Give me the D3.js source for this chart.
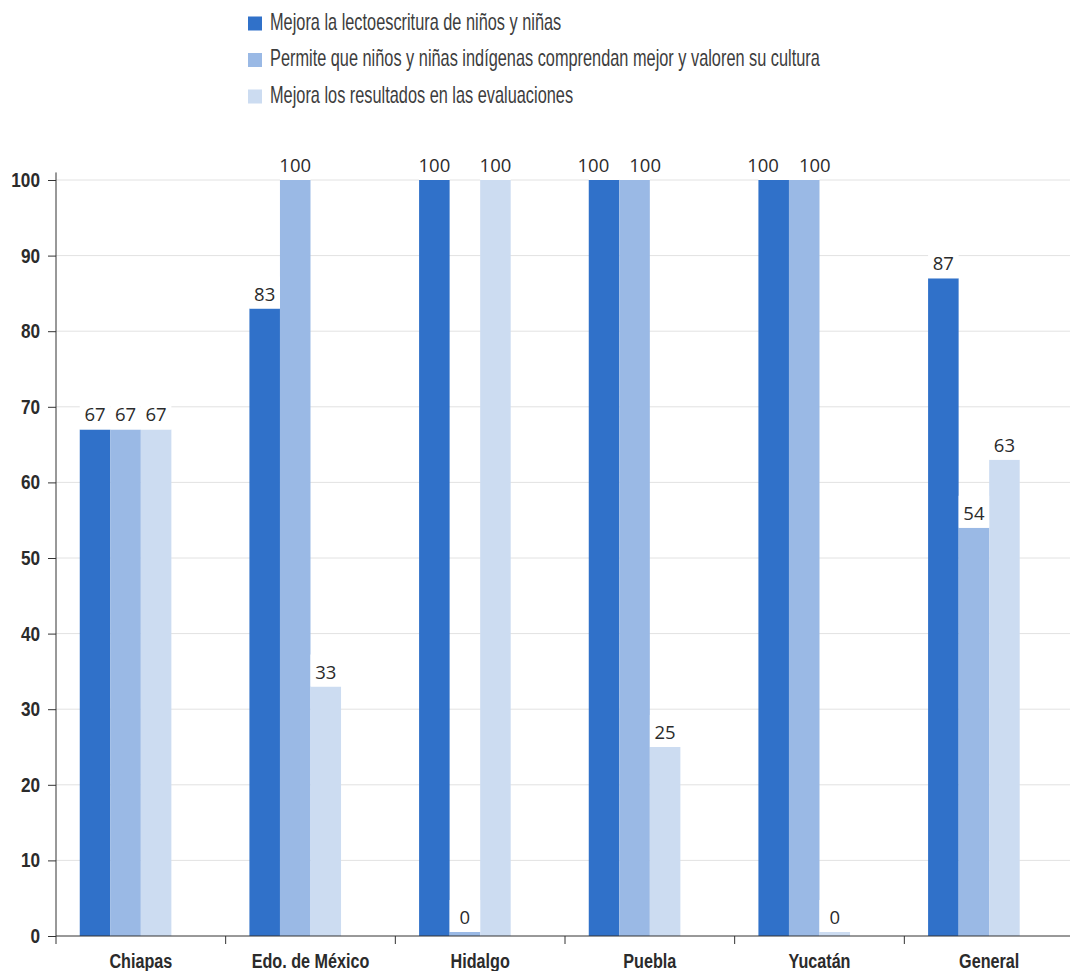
<!DOCTYPE html>
<html>
<head>
<meta charset="utf-8">
<script src="https://cdn.jsdelivr.net/npm/d3@7"></script>
<style>
  body { margin: 0; background: #fff; }
  svg { display: block; }
</style>
</head>
<body>
<script>
const categories = ["Chiapas", "Edo. de México", "Hidalgo", "Puebla", "Yucatán", "General"];
const seriesNames = [
  "Mejora la lectoescritura de niños y niñas",
  "Permite que niños y niñas indígenas comprendan mejor y valoren su cultura",
  "Mejora los resultados en las evaluaciones"
];
const lectoescritura = [67, 83, 100, 100, 100, 87];
const cultura = [67, 100, 0, 100, 100, 54];
const evaluaciones = [67, 33, 100, 25, 0, 63];
const yTicks = [0, 10, 20, 30, 40, 50, 60, 70, 80, 90, 100];

const colors = ["#3071c9", "#9ab9e5", "#ccdcf1"];
const values = [lectoescritura, cultura, evaluaciones];

const width = 1070, height = 971;
const margin = { left: 56, top: 180, bottom: 35 };
const narrow = "Liberation Sans, Arial, sans-serif";

const svg = d3.select("body").append("svg")
  .attr("width", width)
  .attr("height", height);

const x0 = d3.scaleBand()
  .domain(categories)
  .range([margin.left, 1074]);

const x1 = d3.scaleBand()
  .domain(d3.range(seriesNames.length))
  .range([x0.bandwidth() * 0.14, x0.bandwidth() * 0.68]);

const y = d3.scaleLinear()
  .domain([0, 100])
  .range([height - margin.bottom, margin.top]);

// gridlines
svg.append("g")
  .selectAll("line")
  .data(yTicks.filter(d => d > 0))
  .enter()
  .append("line")
  .attr("x1", margin.left)
  .attr("x2", width)
  .attr("y1", d => y(d))
  .attr("y2", d => y(d))
  .attr("stroke", "#e2e2e2")
  .attr("stroke-width", 1);

// one row per bar
const rows = [];
categories.forEach((c, i) => {
  values.forEach((v, s) => {
    rows.push({ cat: c, s: s, value: v[i] });
  });
});

const barX = d => x0(d.cat) + x1(d.s);
const barTop = d => Math.min(y(d.value), y(0) - 4);

svg.append("g")
  .selectAll("rect")
  .data(rows)
  .enter()
  .append("rect")
  .attr("x", barX)
  .attr("y", barTop)
  .attr("width", x1.bandwidth())
  .attr("height", d => y(0) - barTop(d))
  .attr("fill", d => colors[d.s]);

// value labels, white box behind
const labels = svg.append("g")
  .selectAll("g")
  .data(rows)
  .enter()
  .append("g");

labels.append("rect")
  .attr("x", barX)
  .attr("y", d => barTop(d) - 32)
  .attr("width", x1.bandwidth())
  .attr("height", 32)
  .attr("fill", "#fff");

const labelText = labels.append("text")
  .attr("x", d => barX(d) + x1.bandwidth() / 2)
  .attr("y", d => barTop(d) - 8)
  .attr("text-anchor", "middle")
  .attr("font-family", "Open Sans, sans-serif")
  .attr("font-size", "18.5px")
  .attr("fill", "#2b2b2b")
  .text(d => d.value);

// push apart neighbouring labels that sit at the same height and collide
labelText.each(function (d) { d.w = this.getComputedTextLength(); d.cx = barX(d) + x1.bandwidth() / 2; });
for (let i = 1; i < rows.length; i++) {
  const a = rows[i - 1], b = rows[i];
  if (a.cat !== b.cat) continue;
  if (Math.abs(barTop(a) - barTop(b)) > 20) continue;
  const need = (a.w + b.w) / 2 + 20;
  const have = b.cx - a.cx;
  if (have < need && a.w > 25 && b.w > 25) {
    const shift = (need - have) / 2;
    a.cx -= shift;
    b.cx += shift;
  }
}
labelText.attr("x", d => d.cx);

// y axis
const yAxis = svg.append("g")
  .attr("transform", `translate(${margin.left},0)`)
  .call(d3.axisLeft(y).tickValues(yTicks).tickSize(8).tickSizeOuter(0).tickPadding(0));

yAxis.select(".domain").attr("d", `M0,${y(0)}V${y(101)}`).attr("stroke", "#333");
yAxis.selectAll(".tick line").attr("stroke", "#333");
yAxis.selectAll(".tick text")
  .attr("x", null)
  .attr("transform", "translate(-16,0) scale(0.86,1)")
  .attr("font-family", narrow)
  .attr("font-weight", "bold")
  .attr("font-size", "20px")
  .attr("fill", "#2b2b2b");

// x axis
const xAxis = svg.append("g")
  .attr("transform", `translate(0,${y(0)})`);

xAxis.append("line")
  .attr("x1", margin.left)
  .attr("x2", width)
  .attr("stroke", "#333");

xAxis.selectAll(".xtick")
  .data(categories)
  .enter()
  .append("line")
  .attr("class", "xtick")
  .attr("x1", d => x0(d))
  .attr("x2", d => x0(d))
  .attr("y1", 0)
  .attr("y2", 8)
  .attr("stroke", "#333");

xAxis.selectAll(".xlabel")
  .data(categories)
  .enter()
  .append("text")
  .attr("class", "xlabel")
  .attr("transform", d => `translate(${x0(d) + x0.bandwidth() / 2},32) scale(0.77,1)`)
  .attr("text-anchor", "middle")
  .attr("font-family", narrow)
  .attr("font-weight", "bold")
  .attr("font-size", "21px")
  .attr("fill", "#2b2b2b")
  .text(d => d);

// legend
const legend = svg.append("g")
  .selectAll("g")
  .data(seriesNames)
  .enter()
  .append("g")
  .attr("transform", (d, i) => `translate(248,${22.5 + i * 36.5})`);

legend.append("rect")
  .attr("x", 0)
  .attr("y", -6)
  .attr("width", 14)
  .attr("height", 14)
  .attr("fill", (d, i) => colors[i]);

legend.append("text")
  .attr("transform", "translate(22,0) scale(0.71,1)")
  .attr("dy", "0.32em")
  .attr("font-family", narrow)
  .attr("font-size", "23px")
  .attr("fill", "#3d3d3d")
  .text(d => d);
</script>
</body>
</html>
